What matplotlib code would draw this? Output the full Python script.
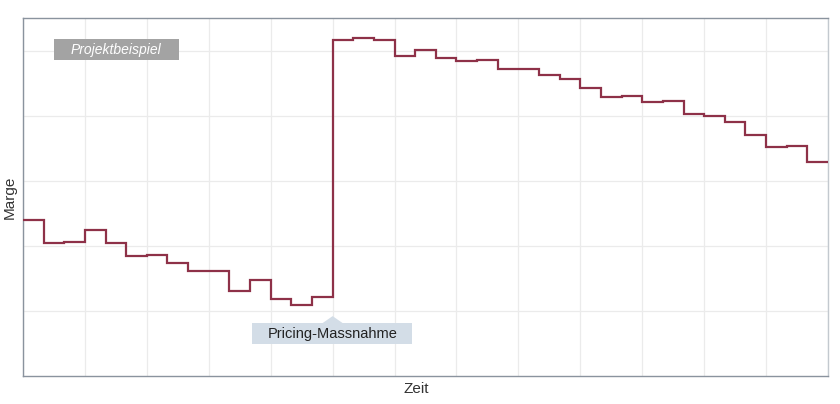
import matplotlib
matplotlib.use('Agg')
import matplotlib.pyplot as plt
from matplotlib.patches import Rectangle, Polygon

plt.rcParams['font.family'] = ['Liberation Sans', 'DejaVu Sans']

# margin per period (arbitrary units), one value per step
marge = [2.39, 2.05, 2.06, 2.25, 2.04, 1.85, 1.86, 1.73, 1.61, 1.61,
         1.31, 1.47, 1.19, 1.09, 1.22, 5.16, 5.19, 5.16, 4.91, 5.01,
         4.88, 4.84, 4.86, 4.72, 4.71, 4.63, 4.57, 4.43, 4.28, 4.30,
         4.21, 4.22, 4.03, 3.99, 3.90, 3.70, 3.52, 3.53, 3.29]
perioden = list(range(len(marge) + 1))
massnahme = 15  # period where the pricing measure starts

fig = plt.figure(figsize=(8.4, 4.04), dpi=100)
ax = fig.add_axes([23 / 840, 28 / 404, 805 / 840, 358 / 404])

ax.stairs(marge, perioden, color='#8e3148', linewidth=1.6, baseline=None, zorder=3)

ax.set_xlim(0, 39)
ax.set_ylim(0, 5.5)
ax.set_xticks(range(0, 40, 3))
ax.set_yticks([1, 2, 3, 4, 5])
ax.tick_params(length=0, labelleft=False, labelbottom=False)
ax.grid(True, color='#ebebeb', linewidth=0.9, zorder=0)
for s in ['left', 'bottom', 'top']:
    ax.spines[s].set_color('#8a939e')
ax.spines['right'].set_color('#c3c9cf')
for s in ax.spines.values():
    s.set_linewidth(1.0)

ax.set_xlabel('Zeit', fontsize=11, color='#333333', va='center')
ax.set_ylabel('Marge', fontsize=11, color='#333333', va='center')
ax.xaxis.set_label_coords(0.489, -0.036)
ax.yaxis.set_label_coords(-0.016, 0.5)

# label "Projektbeispiel"
ax.add_patch(Rectangle((1.5, 4.85), 6.05, 0.33, facecolor='#a3a3a3',
                       edgecolor='none', zorder=4))
ax.text(4.52, 5.015, 'Projektbeispiel', color='white', style='italic',
        fontsize=10, ha='center', va='center', zorder=5)

# callout for the pricing measure
ax.add_patch(Rectangle((11.08, 0.49), 7.79, 0.325, facecolor='#d3dde7',
                       edgecolor='none', zorder=4))
ax.add_patch(Polygon([(massnahme - 0.5, 0.81), (massnahme, 0.92),
                      (massnahme + 0.5, 0.81)], closed=True,
                     facecolor='#d3dde7', edgecolor='none', zorder=4))
ax.text(massnahme, 0.65, 'Pricing-Massnahme', color='#222222',
        fontsize=10.5, ha='center', va='center', zorder=5)

fig.savefig('out.png', dpi=100)
